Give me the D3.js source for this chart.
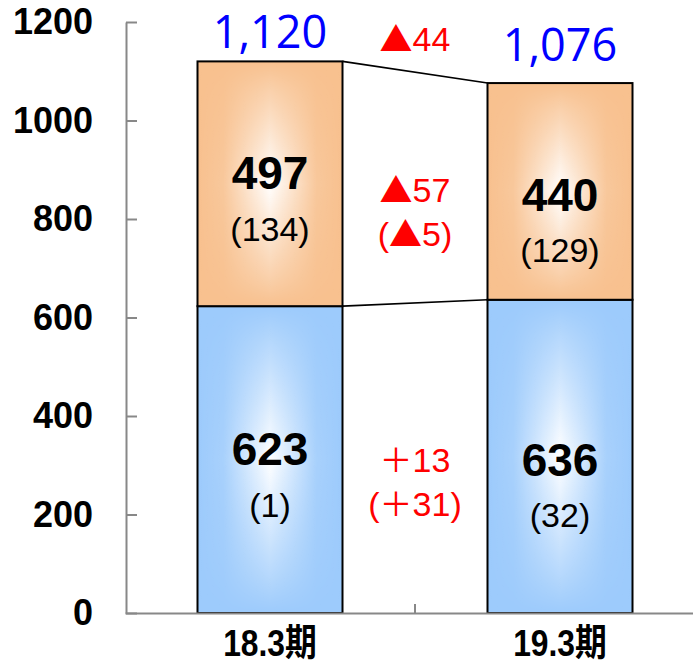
<!DOCTYPE html>
<html>
<head>
<meta charset="utf-8">
<script src="https://cdn.jsdelivr.net/npm/d3@7"></script>
<style>
  body { margin: 0; background: #fff; }
  svg { display: block; }
</style>
</head>
<body>
<svg id="chart" width="693" height="665"></svg>
<script>
// ---- data ----
const categories  = ["18.3期", "19.3期"];
const lowerValues = [623, 636];   // blue segment
const upperValues = [497, 440];   // orange segment
const lowerSub    = [1, 32];      // bracketed figures, blue segment
const upperSub    = [134, 129];   // bracketed figures, orange segment
const yTicks      = [0, 200, 400, 600, 800, 1000, 1200];

// ---- layout ----
const plot = { left: 126, right: 705, top: 22, bottom: 613 };
const colors = { lower: "#9DCBFC", upper: "#F8C18F", axis: "#888888" };
const narrow = "'Liberation Sans Narrow', 'Liberation Sans', 'Noto Sans CJK JP', sans-serif";
const cjk = "'Noto Sans CJK JP', sans-serif";
// per-column baseline offsets (column 0, gap, column 1) relative to segment centre
const mainDy = [5, 14, 20];
const subDy  = [57, 58, 71];
const totalDy = [-13, -22];

const svg = d3.select("#chart");
const defs = svg.append("defs");

const x = d3.scaleBand().domain(categories)
  .range([plot.left - 1, plot.right]).paddingInner(0.5).paddingOuter(0.25);
const y = d3.scaleLinear().domain([0, 1200]).range([plot.bottom, plot.top]);

// centre-out highlight: horizontal white fade, masked by a vertical fade
const hg = defs.append("linearGradient").attr("id", "hfade")
  .attr("x1", 0).attr("x2", 1).attr("y1", 0).attr("y2", 0);
[[0, 0], [0.18, 0.12], [0.5, 1], [0.82, 0.12], [1, 0]].forEach(([o, a]) =>
  hg.append("stop").attr("offset", o).attr("stop-color", "#fff").attr("stop-opacity", a));
const vg = defs.append("linearGradient").attr("id", "vfade")
  .attr("x1", 0).attr("x2", 0).attr("y1", 0).attr("y2", 1);
[[0, "#000"], [0.12, "#444"], [0.5, "#fff"], [0.88, "#444"], [1, "#000"]].forEach(([o, c]) =>
  vg.append("stop").attr("offset", o).attr("stop-color", c));
defs.append("mask").attr("id", "vmask")
  .attr("maskContentUnits", "objectBoundingBox")
  .append("rect").attr("width", 1).attr("height", 1).attr("fill", "url(#vfade)");

// stacked segments
const segments = [];
categories.forEach((c, i) => {
  segments.push({ cat: c, i, y0: 0, y1: lowerValues[i], color: colors.lower, value: lowerValues[i], sub: lowerSub[i] });
  segments.push({ cat: c, i, y0: lowerValues[i], y1: lowerValues[i] + upperValues[i], color: colors.upper, value: upperValues[i], sub: upperSub[i] });
});

const gBars = svg.append("g");
const seg = gBars.selectAll("g.seg").data(segments).join("g").attr("class", "seg");
const segRect = sel => sel
  .attr("x", d => x(d.cat)).attr("width", x.bandwidth())
  .attr("y", d => y(d.y1)).attr("height", d => y(d.y0) - y(d.y1));
seg.append("rect").call(segRect).attr("fill", d => d.color);
seg.append("rect").call(segRect).attr("fill", "url(#hfade)").attr("mask", "url(#vmask)");
seg.append("rect").call(segRect).attr("fill", "none").attr("stroke", "#000").attr("stroke-width", 2);

// connector lines between the two columns
const totals = categories.map((c, i) => lowerValues[i] + upperValues[i]);
const xRight0 = x(categories[0]) + x.bandwidth();
const xLeft1 = x(categories[1]);
[[totals[0], totals[1]], [lowerValues[0], lowerValues[1]]].forEach(([a, b]) => {
  svg.append("line")
    .attr("x1", xRight0).attr("y1", y(a)).attr("x2", xLeft1).attr("y2", y(b))
    .attr("stroke", "#000").attr("stroke-width", 1.6);
});

// y axis
const yAxis = svg.append("g").attr("transform", `translate(${plot.left},0)`)
  .call(d3.axisLeft(y).tickValues(yTicks).tickFormat(d3.format("d"))
    .tickSize(-11).tickSizeOuter(0).tickPadding(33));
yAxis.select(".domain").attr("stroke", colors.axis).attr("stroke-width", 2);
yAxis.selectAll(".tick line").attr("stroke", colors.axis).attr("stroke-width", 2);
yAxis.selectAll(".tick text")
  .attr("font-family", "'Liberation Sans', Arial, sans-serif")
  .attr("font-weight", "bold").attr("font-size", 36).attr("fill", "#000");

// x axis
const xAxis = svg.append("g").attr("transform", `translate(0,${plot.bottom})`)
  .call(d3.axisBottom(x).tickSize(0).tickSizeOuter(0));
xAxis.select(".domain").attr("stroke", colors.axis).attr("stroke-width", 2);
xAxis.selectAll(".tick text")
  .attr("dy", null).attr("y", 43)
  .attr("transform", "scale(0.86,1)")
  .attr("font-family", narrow).attr("font-weight", "bold")
  .attr("font-size", 37).attr("fill", "#000");
// separator ticks between categories
const boundaries = d3.range(1, categories.length)
  .map(i => x(categories[i]) - x.step() * x.paddingInner() / 2);
xAxis.selectAll("line.sep").data(boundaries).join("line").attr("class", "sep")
  .attr("x1", d => d).attr("x2", d => d).attr("y1", 0).attr("y2", -9)
  .attr("stroke", colors.axis).attr("stroke-width", 2);

// labels inside segments
const gLab = svg.append("g").attr("text-anchor", "middle");
segments.forEach(d => {
  const cx = x(d.cat) + x.bandwidth() / 2;
  const cy = (y(d.y0) + y(d.y1)) / 2;
  const col = d.i === 0 ? 0 : 2;
  gLab.append("text").attr("x", cx).attr("y", cy + mainDy[col])
    .attr("font-family", "'Liberation Sans', Arial, sans-serif")
    .attr("font-weight", "bold").attr("font-size", 46).attr("fill", "#000")
    .text(d.value);
  gLab.append("text").attr("x", cx).attr("y", cy + subDy[col])
    .attr("font-family", narrow).attr("font-size", 34).attr("fill", "#000")
    .text(`(${d.sub})`);
});

// totals above columns
const fmt = d3.format(",");
totals.forEach((t, i) => {
  gLab.append("text")
    .attr("x", x(categories[i]) + x.bandwidth() / 2).attr("y", y(t) + totalDy[i])
    .attr("font-family", "'Open Sans', sans-serif").attr("font-size", 45)
    .attr("fill", "#0000FF").text(fmt(t));
});

// year-on-year changes in the gap (▲ = decrease, ＋ = increase)
const diffText = v => (v < 0 ? "▲" + (-v) : "＋" + v);
function redLabel(px, py, str) {
  const t = gLab.append("text").attr("x", px).attr("y", py)
    .attr("font-family", narrow).attr("font-size", 34).attr("fill", "#FF0000");
  str.split(/(▲|＋)/).filter(s => s.length).forEach(part => {
    const ts = t.append("tspan").text(part);
    if (part === "▲" || part === "＋") ts.attr("font-family", cjk).attr("font-size", 33);
  });
}
const midX = boundaries[0];
redLabel(midX, y(d3.max(totals)) - 10, diffText(totals[1] - totals[0]));

const gapRows = [
  { y0: d3.mean(lowerValues), y1: d3.mean(totals),
    main: upperValues[1] - upperValues[0], sub: upperSub[1] - upperSub[0] },
  { y0: 0, y1: d3.mean(lowerValues),
    main: lowerValues[1] - lowerValues[0], sub: lowerSub[1] - lowerSub[0] }
];
gapRows.forEach(r => {
  const cy = (y(r.y0) + y(r.y1)) / 2;
  redLabel(midX, cy + mainDy[1], diffText(r.main));
  redLabel(midX, cy + subDy[1], `(${diffText(r.sub)})`);
});
</script>
</body>
</html>
